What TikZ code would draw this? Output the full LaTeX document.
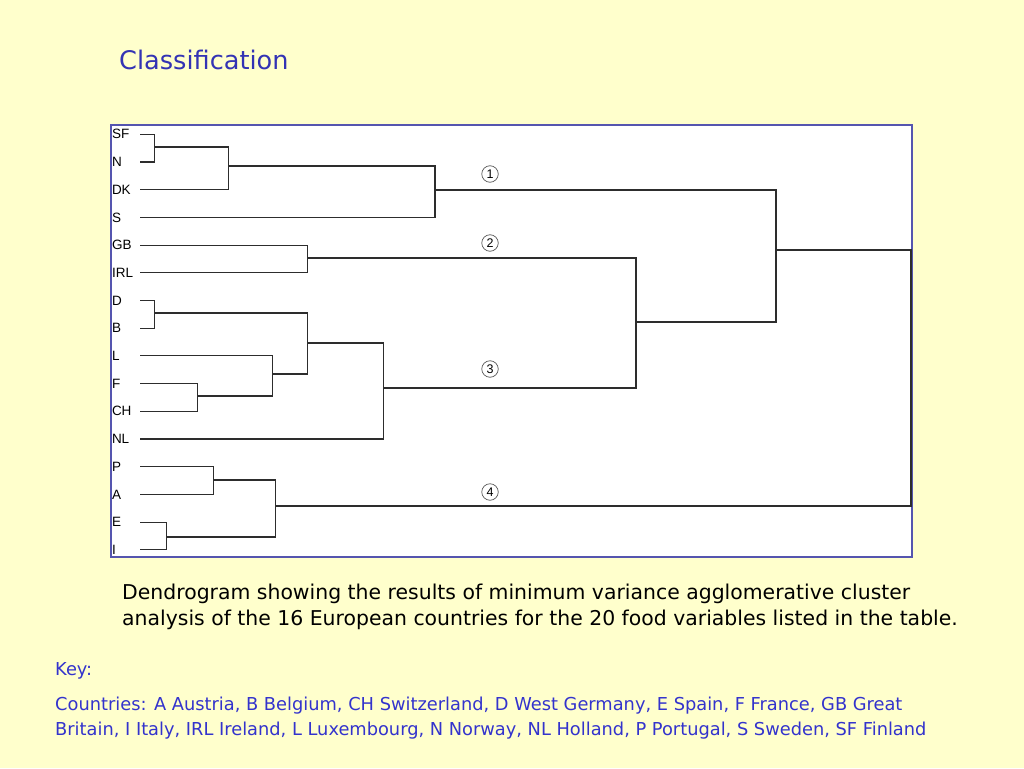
\documentclass[tikz,border=0pt]{standalone}
\usepackage{fontspec}
\setmainfont{DejaVu Sans}
\newfontfamily\leaffont{Liberation Sans}
\usepackage{tikz}
\usetikzlibrary{arrows}

\definecolor{paper}{RGB}{255,255,204}
\definecolor{titleblue}{RGB}{51,51,180}
\definecolor{keyblue}{RGB}{51,51,204}
\definecolor{frameblue}{RGB}{85,85,175}
\definecolor{treegray}{RGB}{45,45,45}

\tikzset{
  leaf/.style={inner sep=0pt, text width=28pt, align=left, font=\leaffont\fontsize{13.5}{13.5}\selectfont},
  branch/.style={draw=treegray, line width=1.1pt},
  group/.style={circle, draw=treegray!80, line width=0.7pt, inner sep=0pt, minimum size=16.5pt, font=\leaffont\fontsize{12.5}{12.5}\selectfont},
  textline/.style={anchor=base west, inner sep=0pt}
}

\begin{document}
\begin{tikzpicture}[x=1pt,y=-1pt,node distance=27.7pt]
    \fill[paper] (0,0) rectangle (1024,768);
    \useasboundingbox (0,0) rectangle (1024,768);
    \node[textline, text=titleblue, font=\fontsize{25.6}{30}\selectfont] (title) at (119,70) {Classification};
    \filldraw[fill=white, draw=frameblue, line width=1.3pt] (111,125) rectangle (912,557);
    % leaves
    \node[leaf] (SF)  at (126,134.3) {SF};
    \node[leaf] (N)   [below of = SF]  {N};
    \node[leaf] (DK)  [below of = N]   {DK};
    \node[leaf] (S)   [below of = DK]  {S};
    \node[leaf] (GB)  [below of = S]   {GB};
    \node[leaf] (IRL) [below of = GB]  {IRL};
    \node[leaf] (D)   [below of = IRL] {D};
    \node[leaf] (B)   [below of = D]   {B};
    \node[leaf] (L)   [below of = B]   {L};
    \node[leaf] (F)   [below of = L]   {F};
    \node[leaf] (CH)  [below of = F]   {CH};
    \node[leaf] (NL)  [below of = CH]  {NL};
    \node[leaf] (P)   [below of = NL]  {P};
    \node[leaf] (A)   [below of = P]   {A};
    \node[leaf] (E)   [below of = A]   {E};
    \node[leaf] (I)   [below of = E]   {I};
    % merges
    \coordinate (sfn)    at (154.3,147);
    \coordinate (sfndk)  at (228.3,166);
    \coordinate (nordic) at (435,190);
    \coordinate (gbirl)  at (307.3,258);
    \coordinate (db)     at (154.3,313);
    \coordinate (fch)    at (197.7,396);
    \coordinate (lfch)   at (272.3,374);
    \coordinate (dblfch) at (307.3,343);
    \coordinate (centre) at (383.3,388);
    \coordinate (west)   at (636,322);
    \coordinate (north)  at (776,250);
    \coordinate (pa)     at (213.7,480);
    \coordinate (ei)     at (166.3,537);
    \coordinate (south)  at (275.7,506);
    \coordinate (root)   at (911,378);
    \draw[branch] (SF.east) -| (sfn);
    \draw[branch] (N.east) -| (sfn);
    \draw[branch] (sfn) -| (sfndk);
    \draw[branch] (DK.east) -| (sfndk);
    \draw[branch] (sfndk) -| (nordic);
    \draw[branch] (S.east) -| (nordic);
    \draw[branch] (GB.east) -| (gbirl);
    \draw[branch] (IRL.east) -| (gbirl);
    \draw[branch] (D.east) -| (db);
    \draw[branch] (B.east) -| (db);
    \draw[branch] (F.east) -| (fch);
    \draw[branch] (CH.east) -| (fch);
    \draw[branch] (L.east) -| (lfch);
    \draw[branch] (fch) -| (lfch);
    \draw[branch] (db) -| (dblfch);
    \draw[branch] (lfch) -| (dblfch);
    \draw[branch] (dblfch) -| (centre);
    \draw[branch] (NL.east) -| (centre);
    \draw[branch] (gbirl) -| (west);
    \draw[branch] (centre) -| (west);
    \draw[branch] (nordic) -| (north);
    \draw[branch] (west) -| (north);
    \draw[branch] (P.east) -| (pa);
    \draw[branch] (A.east) -| (pa);
    \draw[branch] (E.east) -| (ei);
    \draw[branch] (I.east) -| (ei);
    \draw[branch] (pa) -| (south);
    \draw[branch] (ei) -| (south);
    \draw[branch] (north) -| (root);
    \draw[branch] (south) -| (root);
    % groups
    \node[group] (g1) at (490,174) {1};
    \node[group] (g2) at (490,243) {2};
    \node[group] (g3) at (490,369) {3};
    \node[group] (g4) at (490,492) {4};
    % caption and key
    \node[textline, font=\fontsize{20.4}{26}\selectfont] (cap1) at (122,599) {Dendrogram showing the results of minimum variance agglomerative cluster};
    \node[textline, font=\fontsize{20.4}{26}\selectfont] (cap2) at (122,625) {analysis of the 16 European countries for the 20 food variables listed in the table.};
    \node[textline, text=keyblue, font=\fontsize{17.8}{25}\selectfont] (key) at (55,675) {Key:};
    \node[textline, text=keyblue, font=\fontsize{17.8}{25}\selectfont] (key1) at (55,710) {Countries: A Austria, B Belgium, CH Switzerland, D West Germany, E Spain, F France, GB Great};
    \node[textline, text=keyblue, font=\fontsize{17.8}{25}\selectfont] (key2) at (55,735) {Britain, I Italy, IRL Ireland, L Luxembourg, N Norway, NL Holland, P Portugal, S Sweden, SF Finland};
\end{tikzpicture}
\end{document}
